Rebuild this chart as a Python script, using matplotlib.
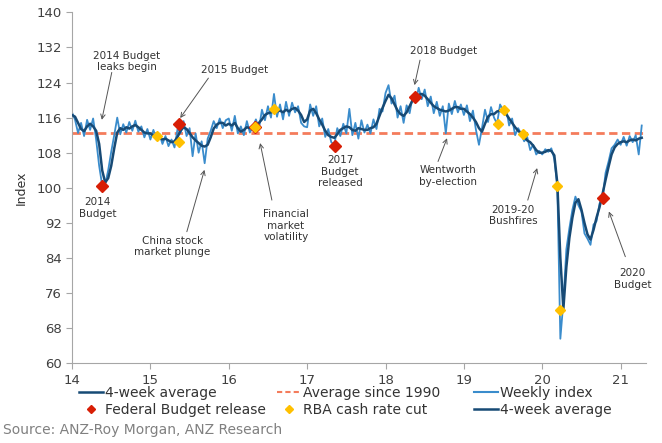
import numpy as np
import matplotlib
matplotlib.use("Agg")
import matplotlib.pyplot as plt
from matplotlib.lines import Line2D

# fortnightly readings, starting Jan 2014 (x axis = year - 2000)
weekly_index = [
    # 2014
    117.2, 115.5, 112.5, 114.8, 111.8, 115.5, 113.2, 115.8, 111.0, 105.0, 100.6, 100.8, 104.0,
    108.2, 112.0, 116.0, 112.2, 114.5, 112.6, 115.0, 113.0, 115.3, 112.8, 114.0, 111.5, 113.4,
    # 2015
    111.0, 113.2, 111.0, 112.3, 110.0, 111.8, 109.5, 111.0, 109.2, 113.4, 112.5, 115.2, 111.8,
    113.6, 107.2, 112.4, 108.0, 110.6, 105.6, 111.2, 113.0, 115.2, 113.6, 115.8, 113.6, 115.4,
    # 2016
    115.8, 113.0, 116.4, 112.4, 114.0, 112.0, 115.2, 112.6, 113.9, 115.6, 113.4, 117.8, 115.4,
    118.6, 116.0, 121.4, 116.2, 119.0, 115.6, 119.6, 116.4, 119.4, 117.2, 118.6, 114.8, 114.0,
    # 2017
    113.8, 119.0, 116.4, 118.6, 114.0, 115.8, 111.6, 113.4, 110.4, 109.8, 113.6, 111.8, 114.6,
    112.4, 118.0, 112.0, 114.8, 111.2, 115.4, 112.6, 114.4, 112.4, 115.6, 113.4, 118.0, 117.4,
    # 2018
    121.6, 123.4, 119.2, 121.0, 116.0, 118.6, 114.8, 118.8, 117.0, 120.8, 119.6, 122.8, 120.2,
    122.4, 118.6, 120.8, 117.0, 119.6, 116.4, 118.6, 112.4, 119.2, 116.8, 119.8, 117.2, 119.0,
    # 2019
    116.6, 118.8, 115.2, 117.6, 113.2, 109.8, 113.6, 117.8, 115.0, 118.4, 116.0, 114.6, 119.0,
    117.7, 118.2, 114.2, 115.8, 112.0, 113.6, 112.3, 110.6, 111.6, 108.6, 109.8, 107.6, 108.4,
    # 2020
    107.6, 108.8, 108.2, 109.0, 106.6, 100.3, 65.6, 74.0, 86.0, 90.8, 95.0, 98.0, 96.0,
    94.6, 89.6, 88.4, 87.0, 91.6, 92.4, 96.4, 97.6, 103.4, 106.0, 109.0, 109.8, 111.0,
    # 2021
    109.8, 111.6, 109.6, 111.8, 110.4, 112.0, 107.6, 114.2,
]

four_week_avg = [
    # 2014
    116.6, 116.2, 114.8, 113.4, 112.9, 114.0, 114.6, 114.0, 113.0, 110.0, 104.0, 101.2, 102.2,
    105.0, 109.0, 112.6, 113.6, 113.2, 113.8, 113.5, 114.0, 114.3, 113.8, 113.2, 112.6, 112.4,
    # 2015
    112.4, 111.9, 111.6, 111.4, 111.0, 111.2, 110.8, 110.4, 110.6, 111.6, 113.0, 113.8, 113.4,
    112.5, 111.5, 110.8, 110.2, 109.6, 109.4, 109.8, 111.5, 113.5, 114.4, 114.8, 114.8, 114.2,
    # 2016
    114.6, 114.2, 114.8, 113.6, 112.8, 113.2, 113.8, 113.6, 113.8, 114.2, 114.8, 115.6, 116.6,
    117.0, 117.2, 117.6, 117.4, 117.6, 117.2, 117.8, 117.4, 118.0, 118.2, 117.6, 116.6, 115.0,
    # 2017
    115.6, 117.6, 118.0, 117.0, 115.6, 114.4, 113.0, 112.0, 111.6, 111.4, 112.2, 113.2, 113.6,
    114.0, 113.8, 113.2, 113.0, 113.6, 113.4, 113.2, 113.2, 113.6, 113.8, 114.6, 116.4, 118.2,
    # 2018
    119.8, 121.2, 120.4, 119.0, 117.6, 116.8, 116.4, 117.2, 118.6, 120.0, 120.8, 121.2, 121.4,
    121.0, 120.2, 119.4, 118.6, 118.2, 117.8, 117.6, 117.4, 117.6, 118.0, 118.4, 118.4, 118.0,
    # 2019
    118.0, 117.4, 116.8, 116.0, 115.0, 113.6, 112.8, 114.6, 116.2, 116.8, 116.8, 117.4, 117.6,
    117.2, 116.8, 115.8, 114.8, 113.8, 113.0, 112.4, 111.6, 110.8, 110.4, 109.6, 108.6, 108.0,
    # 2020
    108.0, 108.2, 108.6, 108.4, 107.4, 101.0, 84.0, 72.4, 82.0, 88.6, 93.2, 96.6, 97.4,
    95.0, 92.0, 89.4, 88.2, 90.4, 93.2, 95.6, 98.6, 101.8, 104.8, 107.6, 109.2, 110.0,
    # 2021
    110.4, 110.6, 110.4, 110.8, 111.0, 110.8, 111.2, 111.4,
]

avg_since_1990 = 112.4

budget_x = [14.38, 15.37, 16.33, 17.35, 18.37, 20.77]
budget_y = [100.4, 114.6, 113.9, 109.5, 120.8, 97.6]

rba_x = [15.09, 15.36, 16.33, 16.58, 19.44, 19.51, 19.76, 20.19, 20.22]
rba_y = [111.7, 110.5, 113.9, 118.0, 114.6, 117.7, 112.3, 100.4, 72.2]

t = 14 + np.arange(len(weekly_index)) / 26

light_blue = "#3a8ccc"
navy = "#174a75"
avg_col = "#f47c5c"
red = "#d81e05"
yellow = "#ffc000"
txt = "#333333"
grey = "#a6a6a6"

fig = plt.figure(figsize=(6.62, 4.43), dpi=100)
ax = fig.add_axes([0.1088, 0.1799, 0.8666, 0.7923])

ax.axhline(avg_since_1990, color=avg_col, lw=2, dashes=(3, 1.6), zorder=1)
ax.plot(t, weekly_index, color=light_blue, lw=1.3, zorder=2)
ax.plot(t, four_week_avg, color=navy, lw=1.8, zorder=3)
ax.plot(budget_x, budget_y, ls="none", marker="D", ms=6, color=red, zorder=4)
ax.plot(rba_x, rba_y, ls="none", marker="D", ms=5, color=yellow, zorder=5)

ax.set_xlim(14, 21.32)
ax.set_ylim(60, 140)
ax.set_xticks(range(14, 22))
ax.set_yticks(range(60, 141, 8))
for s in ["top", "right"]:
    ax.spines[s].set_visible(False)
for s in ["left", "bottom"]:
    ax.spines[s].set_color(grey)
ax.tick_params(colors=grey, labelcolor="#404040", labelsize=9.5, length=4, direction="out")
ax.set_ylabel("Index", fontsize=9, color=txt, labelpad=6)

# annotations: text and arrow drawn separately
notes = [
    ("2014 Budget\nleaks begin", 14.70, 128.7),
    ("2015 Budget", 16.07, 126.9),
    ("2014\nBudget", 14.33, 95.4),
    ("China stock\nmarket plunge", 15.28, 86.6),
    ("Financial\nmarket\nvolatility", 16.73, 91.4),
    ("2017\nBudget\nreleased", 17.42, 103.7),
    ("2018 Budget", 18.74, 131.2),
    ("Wentworth\nby-election", 18.80, 102.7),
    ("2019-20\nBushfires", 19.63, 93.6),
    ("2020\nBudget", 21.15, 79.2),
]
for s, x, y in notes:
    ax.text(x, y, s, ha="center", va="center", fontsize=7.5, color=txt, linespacing=1.15)

arrows = [
    ((14.38, 115.5), (14.507, 126.3)),
    ((15.38, 115.9), (15.74, 125.0)),
    ((15.69, 104.1), (15.465, 90.0)),
    ((16.40, 110.2), (16.55, 97.2)),
    ((18.37, 123.4), (18.44, 129.1)),
    ((18.785, 111.3), (18.67, 106.0)),
    ((19.935, 104.5), (19.815, 97.2)),
    ((20.85, 94.6), (21.06, 84.3)),
]
for tip, tail in arrows:
    ax.annotate("", xy=tip, xytext=tail,
                arrowprops=dict(arrowstyle="->", color="#555555", lw=0.7,
                                shrinkA=0, shrinkB=0, mutation_scale=8))

h_avg = Line2D([], [], color=navy, lw=1.8)
h_90 = Line2D([], [], color=avg_col, lw=1.5, dashes=(2.5, 1.5))
h_wk = Line2D([], [], color=light_blue, lw=1.5)
h_bud = Line2D([], [], ls="none", marker="D", ms=4, color=red)
h_rba = Line2D([], [], ls="none", marker="D", ms=4, color=yellow)

cols = [
    ([h_avg, h_bud], ["4-week average", "Federal Budget release"], 79),
    ([h_90, h_rba], ["Average since 1990", "RBA cash rate cut"], 277),
    ([h_wk, h_avg], ["Weekly index", "4-week average"], 474),
]
for hs, ls, xp in cols:
    fig.legend(hs, ls, loc="upper left", bbox_to_anchor=(xp / 662, 1 - 386 / 443),
               frameon=False, fontsize=10, handlelength=1.75, handletextpad=0.15,
               labelspacing=0.2, borderpad=0, borderaxespad=0, labelcolor=txt)

fig.text(3 / 662, 1 - 430 / 443, "Source: ANZ-Roy Morgan, ANZ Research",
         fontsize=10, color="#808080", va="center", ha="left")

fig.savefig("out.png", dpi=100)
